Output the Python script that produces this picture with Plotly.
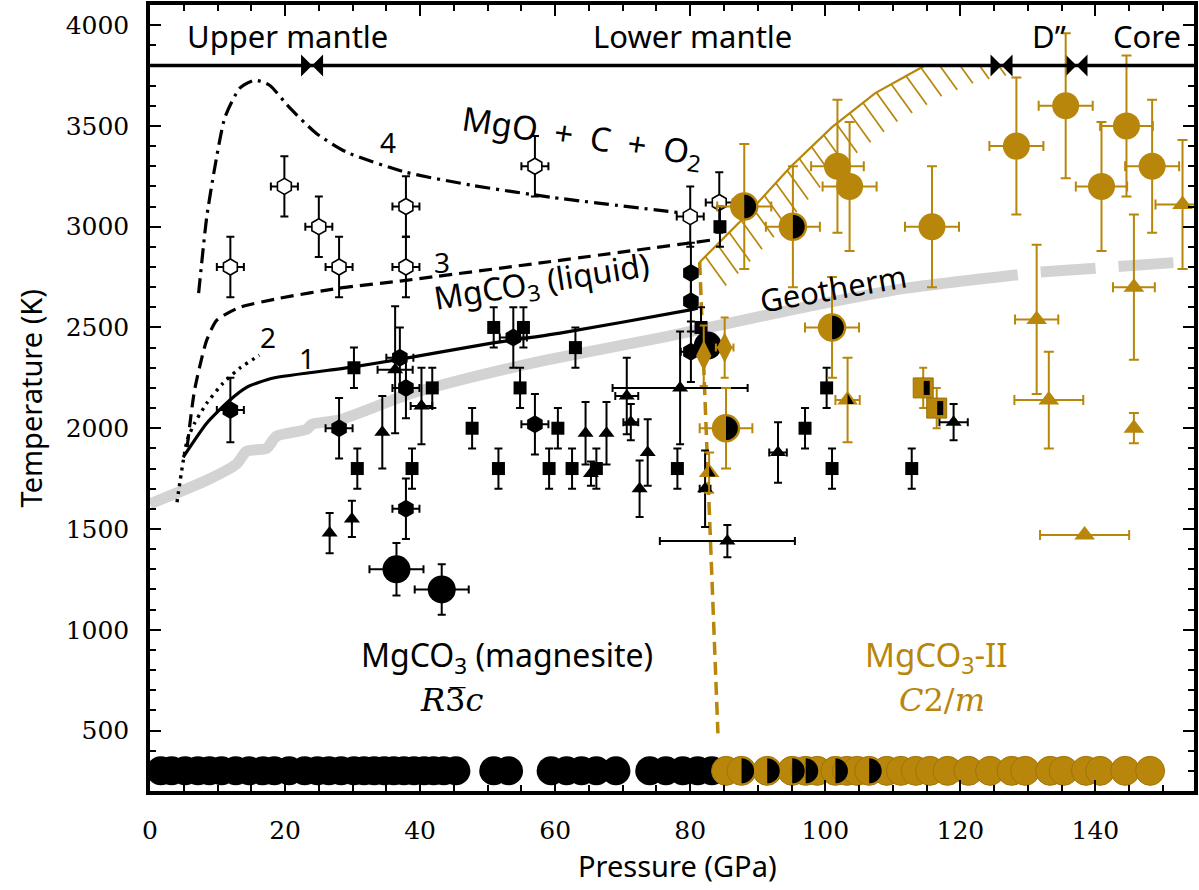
import numpy as np
import plotly.graph_objects as go

GOLD = "#B8860B"
GREY = "#d3d3d3"
SANS = "Noto Sans"
SERIF = "DejaVu Serif"
NB = "\u00a0"

# ---------------- axes / data ----------------
x_range = [0, 154.6]
y_range = [200, 4100]
x_ticks = [0, 20, 40, 60, 80, 100, 120, 140]
y_ticks = [500, 1000, 1500, 2000, 2500, 3000, 3500, 4000]

band_T = 3800
region_names = ["Upper mantle", "Lower mantle", "D\u201d", "Core"]
region_P = [20.4, 80.4, 133.2, 147.6]
boundary_P = [24.0, 126.1, 137.2]

# geotherm
geo_P = [0, 8.4, 12.8, 14.3, 17.3, 18.7, 23.2, 24.0, 28.0, 37.9, 47.6, 59.0, 76.1, 94.8, 112.0, 128.5]
geo_T = [1625, 1742, 1822, 1886, 1901, 1960, 1995, 2020, 2040, 2164, 2253, 2340, 2452, 2586, 2695, 2762]
geo_dash_P = [131.9, 140.0, 151.5, 154.6]
geo_dash_T = [2775, 2794, 2819, 2829]

# melting / decomposition curves
c1_P = [4.9, 8.4, 11.8, 14.3, 18.1, 29.9, 36.9, 50.6, 60.5, 79.8, 81.1]
c1_T = [1856, 2025, 2139, 2203, 2248, 2303, 2342, 2422, 2471, 2586, 2596]
c2_P = [4.0, 5.5, 6.6, 8.4, 10.8, 13.3, 16.2]
c2_T = [1633, 1940, 2025, 2124, 2223, 2298, 2362]
c3_P = [5.5, 6.6, 8.4, 9.9, 13.3, 19.2, 28.0, 37.9, 57.5, 83.0]
c3_T = [1906, 2189, 2437, 2536, 2600, 2645, 2695, 2734, 2819, 2933]
c4_P = [7.2, 8.4, 9.6, 11.1, 13.3, 15.5, 17.7, 20.6, 24.6, 29.1, 37.9, 47.6, 59.4, 79.1]
c4_T = [2670, 3047, 3295, 3543, 3687, 3727, 3702, 3593, 3464, 3370, 3270, 3206, 3146, 3067]

# MgCO3 -> MgCO3-II boundary
pb_P = [81.4, 84.1]
pb_T = [2824, 486]
# hatched melting boundary of MgCO3-II
hb_P = [81.4, 88.6, 94.8, 101.0, 107.4, 114.2, 119.5, 125.4]
hb_T = [2824, 3067, 3295, 3494, 3663, 3792, 3866, 3906]

# black squares
sq_P = [30.2, 41.8, 30.7, 38.8, 47.7, 50.9, 55.3, 54.8, 51.6, 59.1, 60.4, 63.0, 62.5, 66.1, 78.1, 81.6, 84.4, 100.2, 97.0, 101.0, 112.8]
sq_T = [2300, 2200, 1800, 1800, 2000, 2500, 2500, 2200, 1800, 1800, 2000, 2400, 1800, 1800, 1800, 2500, 3000, 2200, 2000, 1800, 1800]
sq_dT = [100] * 21

# black triangles
tr_P = [36.3, 34.4, 40.2, 26.6, 29.9, 70.6, 71.2, 78.5, 64.5, 67.6, 65.3, 73.7, 72.5, 82.2, 93.0, 119.0, 85.5]
tr_T = [2290, 1980, 2110, 1480, 1550, 2160, 2030, 2200, 1975, 1975, 1775, 1880, 1700, 1700, 1880, 2030, 1440]
tr_dT = [315, 180, 190, 100, 90, 190, 90, 280, 155, 155, 60, 165, 140, 190, 150, 90, 80]
tr_dP = [2.6, None, 1.6, None, None, 1.7, 1.1, 10.0, None, None, None, None, None, 0.8, 1.3, 2.1, 10.0]

# black hexagons
hx_P = [11.9, 28.0, 37.0, 37.9, 37.9, 53.8, 57.0, 80.1, 80.1, 80.1]
hx_T = [2090, 2000, 2350, 2200, 1600, 2450, 2020, 2770, 2630, 2380]
hx_dT = [160, 150, 150, 150, 150, 150, 150, 150, 150, 150]
hx_dP = [2.0, 2.0, 2.0, 2.0, 2.0, 2.0, 2.0, None, None, 1.5]

# open hexagons (liquid)
ho_P = [11.9, 19.9, 25.0, 28.0, 37.9, 37.9, 57.0, 80.0, 84.3]
ho_T = [2800, 3200, 3000, 2800, 3100, 2800, 3300, 3050, 3120]
ho_dT = [150] * 9
ho_dP = [2.0] * 9

# big black circles
bk_P = [36.5, 43.2, 82.6]
bk_T = [1300, 1200, 2410]
bk_dT = [130, 125, None]
bk_dP = [4.0, 4.0, None]

# gold circles
gc_P = [128.3, 135.6, 144.6, 140.9, 148.4, 101.8, 103.6, 115.8]
gc_T = [3400, 3600, 3500, 3200, 3300, 3300, 3200, 3000]
gc_dT = [340, 360, 350, 320, 330, 330, 320, 300]
gc_dP = [4.0, 4.0, 3.9, 3.8, 4.0, 3.9, 4.0, 4.0]

# half gold / half black circles
hc_P = [88.0, 95.2, 101.0, 85.3]
hc_T = [3100, 3000, 2500, 2000]
hc_dT = [310, 300, 250, 200]
hc_dP = [4.0, 4.0, 4.0, 3.9]

# gold triangles
gt_P = [131.3, 133.1, 145.7, 145.7, 138.4, 152.9, 103.3, 82.8]
gt_T = [2540, 2140, 2700, 2000, 1470, 3110, 2140, 1780]
gt_dT = [370, 240, 360, 75, None, 320, 210, 100]
gt_dP = [3.2, 5.1, 3.1, None, 6.6, 4.0, 1.8, None]
gt_half_P = [103.3, 82.8]
gt_half_T = [2140, 1780]

# gold diamonds
gd_P = [82.0, 85.1]
gd_T = [2360, 2400]
gd_dT = [150, 150]
gd_dP = [None, 1.3]

# gold squares (half black)
gs_P = [114.5, 116.5]
gs_T = [2200, 2100]
gs_dT = [100, 100]

# room-temperature measurements
rt_T = 300
rtb_P = [1.6, 3.2, 5.2, 7.1, 8.8, 10.6, 12.7, 14.7, 16.7, 18.4, 20.6, 22.9, 24.8, 26.5, 28.3, 30.2,
         31.7, 33.2, 34.7, 36.1, 37.6, 39.1, 40.6, 42.0, 43.5, 45.3, 50.9, 53.1, 59.4, 61.7, 63.9,
         66.1, 69.0, 74.0, 76.4, 78.9, 81.1, 83.2]
rtg_P = [85.3, 87.6, 91.4, 95.1, 97.1, 98.8, 101.5, 103.2, 104.7, 106.5, 109.1, 111.2, 113.4, 115.5,
         118.1, 121.2, 124.4, 127.6, 129.6, 133.3, 135.3, 138.6, 140.7, 144.4, 148.1]
rtg_half_P = [87.6, 91.4, 95.1, 97.1, 101.5, 106.5]

# ---------------- figure ----------------
W, H = 1199, 890
ML, MR, MT, MB = 150, 1, 5, 99
kx = (W - ML - MR) / (x_range[1] - x_range[0])
ky = (H - MT - MB) / (y_range[1] - y_range[0])

fig = go.Figure()


def err(arr, color, w=4, th=2):
    return dict(type="data", array=arr, visible=True, color=color, thickness=th, width=w)


def line(xs, ys, color, width, dash="solid", shape="linear"):
    fig.add_trace(go.Scatter(x=xs, y=ys, mode="lines", hoverinfo="skip",
                             line=dict(color=color, width=width, dash=dash, shape=shape, smoothing=0.6)))


# geotherm
line(geo_P, geo_T, GREY, 11, shape="spline")
line(geo_dash_P, geo_dash_T, GREY, 11, dash="55px,23px")

# curves
line(c4_P, c4_T, "black", 3.2, dash="15px,6px,3px,6px", shape="spline")
line(c3_P, c3_T, "black", 3.2, dash="13px,7px", shape="spline")
line(c2_P, c2_T, "black", 3.4, dash="3px,5px", shape="spline")
line(c1_P, c1_T, "black", 3.2, shape="spline")
line(pb_P, pb_T, GOLD, 3.5, dash="13px,7px")

# hatched boundary: visible part of the curve below the band line
hbP = np.array(hb_P, float)
hbT = np.array(hb_T, float)
vis = hbT <= band_T
cP = list(hbP[vis])
cT = list(hbT[vis])
i = np.argmax(~vis)
f = (band_T - hbT[i - 1]) / (hbT[i] - hbT[i - 1])
cP.append(hbP[i - 1] + f * (hbP[i] - hbP[i - 1]))
cT.append(band_T)
line(cP, cT, GOLD, 2.2)

# hatch marks along the curve (every ~17 px of arc length)
px = (hbP - x_range[0]) * kx
py = (hbT - y_range[0]) * ky
seg = np.hypot(np.diff(px), np.diff(py))
s = np.concatenate([[0], np.cumsum(seg)])
hx, hy = [], []
yb = (band_T - y_range[0]) * ky
for sv in np.arange(8, s[-1], 17.0):
    x0 = np.interp(sv, s, px)
    y0 = np.interp(sv, s, py)
    x1, y1 = x0 + 21, y0 - 29
    if y1 >= yb:
        continue
    if y0 > yb:
        t = (y0 - yb) / (y0 - y1)
        x0, y0 = x0 + t * (x1 - x0), yb
    hx += [x0 / kx + x_range[0], x1 / kx + x_range[0], None]
    hy += [y0 / ky + y_range[0], y1 / ky + y_range[0], None]
fig.add_trace(go.Scatter(x=hx, y=hy, mode="lines", line=dict(color=GOLD, width=1.7), hoverinfo="skip"))

# band line and boundary markers
fig.add_shape(type="line", xref="paper", yref="y", x0=0, x1=1, y0=band_T, y1=band_T,
              line=dict(color="black", width=3.5))
fig.add_trace(go.Scatter(x=boundary_P, y=[band_T] * len(boundary_P), mode="markers",
                         marker=dict(symbol="bowtie", size=22, color="black"), hoverinfo="skip"))


def pts(xs, ys, symbol, size, color, ey=None, ex=None, ecolor="black", lc=None, lw=0, ew=4):
    fig.add_trace(go.Scatter(
        x=xs, y=ys, mode="markers", hoverinfo="skip",
        marker=dict(symbol=symbol, size=size, color=color,
                    line=dict(color=lc if lc else color, width=lw)),
        error_y=err(ey, ecolor, ew) if ey is not None else None,
        error_x=err(ex, ecolor, ew) if ex is not None else None))


# room temperature rows
pts(rtb_P, [rt_T] * len(rtb_P), "circle", 29, "black")
pts(rtg_P, [rt_T] * len(rtg_P), "circle", 29, GOLD, lc="#a07408", lw=1)

# black data
pts(ho_P, ho_T, "hexagon", 16, "white", ho_dT, ho_dP, lc="black", lw=1.6)
pts(sq_P, sq_T, "square", 13, "black", sq_dT)
pts(tr_P, tr_T, "triangle-up", 14, "black", tr_dT, tr_dP)
pts(hx_P, hx_T, "hexagon", 18, "black", hx_dT, hx_dP)
pts(bk_P, bk_T, "circle", 28, "black", bk_dT, bk_dP)

# gold data
pts(gd_P, gd_T, "diamond-tall", 22, GOLD, gd_dT, gd_dP, ecolor=GOLD)
pts(gt_P, gt_T, "triangle-up", 18, GOLD, gt_dT, gt_dP, ecolor=GOLD, ew=5)
pts(gs_P, gs_T, "square", 20, GOLD, gs_dT, None, ecolor=GOLD, lc="#9a7009", lw=1)
pts(gc_P, gc_T, "circle", 27, GOLD, gc_dT, gc_dP, ecolor=GOLD, ew=5)
pts(hc_P, hc_T, "circle", 27, GOLD, hc_dT, hc_dP, ecolor=GOLD, ew=5, lc=GOLD, lw=1.5)


# black halves (pixel-sized shapes anchored at the data points)
def half_disc(r, n=26):
    a = np.linspace(np.pi / 2, -np.pi / 2, n)
    return "M " + " L ".join(f"{r*np.cos(t):.2f},{r*np.sin(t):.2f}" for t in a) + " Z"


def add_half(P, T, path):
    fig.add_shape(type="path", xref="x", yref="y", xsizemode="pixel", ysizemode="pixel",
                  xanchor=P, yanchor=T, path=path, fillcolor="black", line=dict(width=0), layer="above")


for P, T in zip(hc_P, hc_T):
    add_half(P, T, half_disc(11.8))
for P in rtg_half_P:
    add_half(P, rt_T, half_disc(12.5))
for P, T in zip(gs_P, gs_T):
    add_half(P, T, "M 0.5,7 L 6.5,7 L 6.5,-7 L 0.5,-7 Z")
for P, T in zip(gt_half_P, gt_half_T):
    add_half(P, T, "M 0,6.6 L 6.4,-3.9 L 0,-3.9 Z")

# ---------------- text ----------------
def label(P, T, text, size=30, color="black", angle=0, family=SANS):
    fig.add_annotation(x=P, y=T, xref="x", yref="y", text=text, showarrow=False, textangle=angle,
                       font=dict(family=family, size=size, color=color), xanchor="center", yanchor="middle")


for name, P in zip(region_names, region_P):
    label(P, 3945, name, 31)
label(63.9, 3444, f"MgO{NB}{NB}+{NB}{NB}C{NB}{NB}+{NB}{NB}O<sub>2</sub>", 33, angle=8.5)
label(35.3, 3421, "4", 28)
label(43.3, 2825, "3", 28)
label(17.4, 2453, "2", 28)
label(23.3, 2347, "1", 28)
label(58.0, 2720, f"MgCO<sub>3</sub>{NB}(liquid)", 32, angle=-9)
label(101.2, 2695, "Geotherm", 31, angle=-10)
label(52.9, 866, "MgCO<sub>3</sub> (magnesite)", 32)
label(44.7, 650, "<i>R</i>3\u0305<i>c</i>", 32, family=SERIF)
label(116.4, 865, "MgCO<sub>3</sub>-II", 33, color=GOLD)
label(117.3, 650, "<i>C</i>2/<i>m</i>", 32, color=GOLD, family=SERIF)

fig.add_annotation(x=0.5057, y=-0.095, xref="paper", yref="paper", text="Pressure (GPa)", showarrow=False,
                   font=dict(family=SANS, size=29, color="black"), xanchor="center", yanchor="middle")
fig.add_annotation(x=-0.1145, y=0.5, xref="paper", yref="paper", text="Temperature (K)", showarrow=False,
                   textangle=-90, font=dict(family=SANS, size=29, color="black"),
                   xanchor="center", yanchor="middle")

axis_common = dict(showline=True, linewidth=3.5, linecolor="black", mirror="allticks", ticks="inside",
                   ticklen=11, tickwidth=2, tickcolor="black", showgrid=False, zeroline=False,
                   tickfont=dict(family=SERIF, size=25, color="black"))
fig.update_xaxes(range=x_range, tickvals=x_ticks, ticktext=[str(v) for v in x_ticks],
                 minor=dict(ticks="inside", ticklen=6, tickwidth=1.5, dtick=5, tick0=0, tickcolor="black"),
                 ticklabelstandoff=14, **axis_common)
fig.update_yaxes(range=y_range, tickvals=y_ticks, ticktext=[str(v) for v in y_ticks],
                 minor=dict(ticks="inside", ticklen=6, tickwidth=1.5, dtick=100, tick0=0, tickcolor="black"),
                 ticklabelstandoff=12, **axis_common)

fig.update_layout(width=W, height=H, margin=dict(l=ML, r=MR, t=MT, b=MB), showlegend=False,
                  plot_bgcolor="white", paper_bgcolor="white")

fig.write_html("out.html")
